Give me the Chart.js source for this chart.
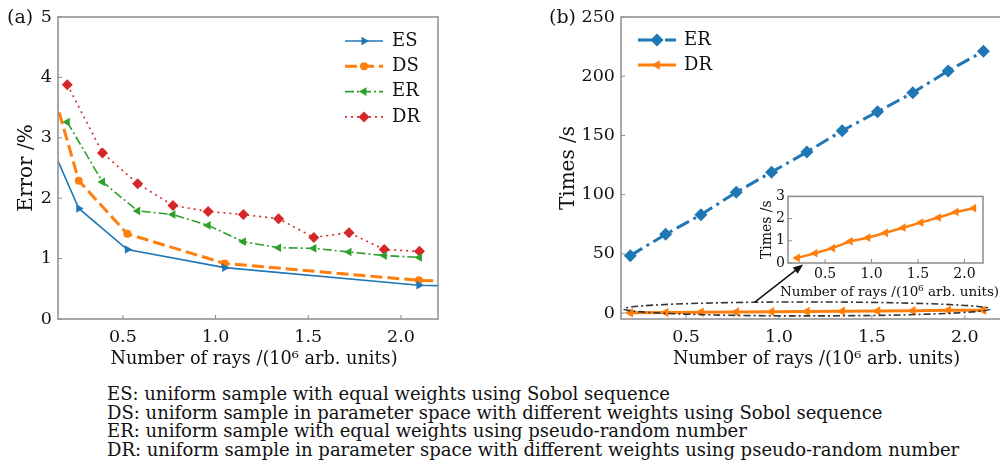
<!DOCTYPE html>
<html>
<head>
<meta charset="utf-8">
<script src="https://cdn.jsdelivr.net/npm/chart.js@4.4.1/dist/chart.umd.min.js"></script>
<style>
  html, body { margin: 0; padding: 0; background: #fff; }
  body { width: 1000px; height: 473px; overflow: hidden; position: relative; font-family: 'DejaVu Serif', serif; color: #111; }
  canvas { position: absolute; }
  #chartA { left: 0; top: 0; }
  #chartB { left: 540px; top: 0; }
  #inset { left: 750px; top: 185px; }
  .tag { position: absolute; font-size: 19px; line-height: 22px; }
  #caption { position: absolute; left: 107px; top: 385px; font-size: 18px; line-height: 18.7px; white-space: nowrap; }
</style>
</head>
<body>
<canvas id="chartA" width="450" height="372"></canvas>
<canvas id="chartB" width="470" height="372"></canvas>
<canvas id="inset" width="250" height="117"></canvas>
<div class="tag" style="left:7px;top:5px">(a)</div>
<div class="tag" style="left:549px;top:5px">(b)</div>
<div id="caption">
  <div>ES: uniform sample with equal weights using Sobol sequence</div>
  <div>DS: uniform sample in parameter space with different weights using Sobol sequence</div>
  <div>ER: uniform sample with equal weights using pseudo-random number</div>
  <div>DR: uniform sample in parameter space with different weights using pseudo-random number</div>
</div>
<script>
// number of rays, 10^6 arb. units
const sobolRays = [0.131, 0.262, 0.524, 1.049, 2.097, 4.194]
const randomRays = [0.2, 0.39, 0.58, 0.77, 0.96, 1.15, 1.34, 1.53, 1.72, 1.91, 2.1]

// error, %
const esError = [2.75, 1.83, 1.15, 0.85, 0.56, 0.40]
const dsError = [3.69, 2.29, 1.41, 0.92, 0.64, 0.45]
const erError = [3.26, 2.27, 1.79, 1.73, 1.55, 1.28, 1.18, 1.17, 1.11, 1.05, 1.02]
const drError = [3.88, 2.75, 2.24, 1.88, 1.78, 1.73, 1.66, 1.35, 1.43, 1.15, 1.12]

// times, s
const erTime = [48.5, 66.5, 83, 102, 119, 136, 154, 170, 186, 204.5, 221]
const drTime = [0.23, 0.44, 0.67, 0.98, 1.14, 1.36, 1.59, 1.82, 2.05, 2.30, 2.47]

const rayTicks = [0.5, 1.0, 1.5, 2.0]
const errorTicks = [0, 1, 2, 3, 4, 5]
const timeTicks = [0, 50, 100, 150, 200, 250]
const insetTimeTicks = [0, 1, 2, 3]

const xTitle = 'Number of rays /(10\u2076 arb. units)'

const blue = '#1f77b4'
const orange = '#ff7f0e'
const green = '#2ca02c'
const red = '#d62728'
const serif = "'DejaVu Serif', serif"

const points = (xs, ys) => xs.map((x, i) => ({ x: x, y: ys[i] }))
const fixTicks = (list) => (scale) => { scale.ticks = list.map(v => ({ value: v })) }

// grey box round the plot area with small inward ticks
const framePlugin = {
    id: 'frame',
    afterDatasetsDraw(chart) {
        const { ctx, chartArea: a, scales } = chart
        ctx.save()
        ctx.strokeStyle = '#8c8c8c'
        ctx.lineWidth = 1.5
        ctx.strokeRect(a.left, a.top, a.right - a.left, a.bottom - a.top)
        ctx.lineWidth = 1
        scales.x.ticks.forEach(t => {
            const px = scales.x.getPixelForValue(t.value)
            ctx.beginPath()
            ctx.moveTo(px, a.bottom)
            ctx.lineTo(px, a.bottom - 4)
            ctx.stroke()
        })
        scales.y.ticks.forEach(t => {
            const py = scales.y.getPixelForValue(t.value)
            ctx.beginPath()
            ctx.moveTo(a.left, py)
            ctx.lineTo(a.left + 4, py)
            ctx.stroke()
        })
        ctx.restore()
    },
}

// x axis title, free to run wider than the plot area
const xTitlePlugin = {
    id: 'xTitle',
    afterDraw(chart, args, opts) {
        if (!opts || !opts.show) return
        const { ctx, chartArea: a } = chart
        ctx.save()
        ctx.fillStyle = '#111'
        ctx.font = opts.size + 'px ' + serif
        ctx.textAlign = 'center'
        ctx.textBaseline = 'middle'
        ctx.fillText(xTitle, (a.left + a.right) / 2 + opts.dx, opts.y)
        ctx.restore()
    },
}

// legend with line sample + marker, like matplotlib
const lineLegend = {
    id: 'lineLegend',
    afterDraw(chart, args, opts) {
        if (!opts || !opts.show) return
        const { ctx, chartArea: a } = chart
        const x0 = opts.anchor === 'right' ? a.right - opts.dx : a.left + opts.dx
        chart.data.datasets.forEach((ds, i) => {
            const y = a.top + opts.dy + i * opts.step
            ctx.save()
            ctx.strokeStyle = ds.borderColor
            ctx.lineWidth = ds.borderWidth
            ctx.setLineDash(ds.borderDash || [])
            ctx.beginPath()
            ctx.moveTo(x0, y)
            ctx.lineTo(x0 + opts.len, y)
            ctx.stroke()
            ctx.setLineDash([])
            ctx.fillStyle = ds.borderColor
            Chart.helpers.drawPoint(ctx, {
                pointStyle: ds.pointStyle,
                rotation: ds.pointRotation || 0,
                radius: ds.pointRadius,
                borderWidth: 0,
            }, x0 + opts.len / 2, y)
            ctx.fillStyle = '#111'
            ctx.font = opts.font
            ctx.textBaseline = 'middle'
            ctx.fillText(ds.label, x0 + opts.len + opts.gap, y)
            ctx.restore()
        })
    },
}

// dash-dot ellipse round the DR line and the arrow to the inset
const zoomMark = {
    id: 'zoomMark',
    afterDatasetsDraw(chart, args, opts) {
        if (!opts || !opts.show) return
        const { ctx, scales: { x, y } } = chart
        const cx = x.getPixelForValue(opts.center[0])
        const cy = y.getPixelForValue(opts.center[1])
        const rx = x.getPixelForValue(opts.center[0] + opts.radius[0]) - cx
        const ry = cy - y.getPixelForValue(opts.center[1] + opts.radius[1])
        ctx.save()
        ctx.strokeStyle = '#333'
        ctx.lineWidth = 1.6
        ctx.setLineDash([7, 3, 2, 3])
        ctx.beginPath()
        ctx.ellipse(cx, cy, rx, ry, 0, 0, Math.PI * 2)
        ctx.stroke()
        ctx.setLineDash([])
        const x1 = x.getPixelForValue(opts.from[0]), y1 = y.getPixelForValue(opts.from[1])
        const x2 = x.getPixelForValue(opts.to[0]), y2 = y.getPixelForValue(opts.to[1])
        const ang = Math.atan2(y2 - y1, x2 - x1)
        ctx.strokeStyle = '#111'
        ctx.fillStyle = '#111'
        ctx.lineWidth = 1.5
        ctx.beginPath()
        ctx.moveTo(x1, y1)
        ctx.lineTo(x2 - 6 * Math.cos(ang), y2 - 6 * Math.sin(ang))
        ctx.stroke()
        ctx.beginPath()
        ctx.moveTo(x2, y2)
        ctx.lineTo(x2 - 10 * Math.cos(ang) + 4 * Math.sin(ang), y2 - 10 * Math.sin(ang) - 4 * Math.cos(ang))
        ctx.lineTo(x2 - 10 * Math.cos(ang) - 4 * Math.sin(ang), y2 - 10 * Math.sin(ang) + 4 * Math.cos(ang))
        ctx.closePath()
        ctx.fill()
        ctx.restore()
    },
}

const axes = ({ xMin, xMax, yMin, yMax, yTicks, yTitle, yWidth, xHeight, tickSize, yTitleSize, yPad, xPad, yTitlePad }) => ({
    x: {
        type: 'linear',
        min: xMin,
        max: xMax,
        afterBuildTicks: fixTicks(rayTicks),
        afterFit: (s) => { s.height = xHeight },
        grid: { display: false, drawTicks: false },
        border: { display: false },
        ticks: {
            autoSkip: false,
            maxRotation: 0,
            padding: xPad,
            color: '#111',
            font: { family: serif, size: tickSize },
            callback: (v) => v.toFixed(1),
        },
    },
    y: {
        type: 'linear',
        min: yMin,
        max: yMax,
        afterBuildTicks: fixTicks(yTicks),
        afterFit: (s) => { s.width = yWidth },
        grid: { display: false, drawTicks: false },
        border: { display: false },
        ticks: {
            autoSkip: false,
            padding: yPad,
            color: '#111',
            font: { family: serif, size: tickSize },
        },
        title: {
            display: true,
            text: yTitle,
            color: '#111',
            font: { family: serif, size: yTitleSize },
            padding: { top: yTitlePad, bottom: 0 },
        },
    },
})

const baseOptions = {
    responsive: false,
    animation: false,
    events: [],
}

// (a) error
new Chart(document.getElementById('chartA'), {
    type: 'line',
    plugins: [framePlugin, lineLegend, xTitlePlugin],
    data: {
        datasets: [
            {
                label: 'ES', data: points(sobolRays, esError),
                borderColor: blue, backgroundColor: blue, borderWidth: 1.6,
                pointStyle: 'triangle', pointRotation: 90, pointRadius: 5, pointBorderWidth: 0,
                clip: 0,
            },
            {
                label: 'DS', data: points(sobolRays, dsError),
                borderColor: orange, backgroundColor: orange, borderWidth: 3, borderDash: [12, 5],
                pointStyle: 'circle', pointRadius: 4, pointBorderWidth: 0,
                clip: 0,
            },
            {
                label: 'ER', data: points(randomRays, erError),
                borderColor: green, backgroundColor: green, borderWidth: 1.6, borderDash: [9, 3, 2, 3],
                pointStyle: 'triangle', pointRotation: -90, pointRadius: 5, pointBorderWidth: 0,
                clip: 0,
            },
            {
                label: 'DR', data: points(randomRays, drError),
                borderColor: red, backgroundColor: red, borderWidth: 1.6, borderDash: [2, 4],
                pointStyle: 'rectRot', pointRadius: 5.5, pointBorderWidth: 0,
                clip: 0,
            },
        ],
    },
    options: {
        ...baseOptions,
        layout: { padding: { left: 0, top: 17, right: 12, bottom: 0 } },
        scales: axes({
            xMin: 0.15, xMax: 2.2, yMin: 0, yMax: 5, yTicks: errorTicks, yTitle: 'Error /%',
            yWidth: 58, xHeight: 53, tickSize: 17.5, yTitleSize: 20,
            yPad: 6, xPad: 8, yTitlePad: 15,
        }),
        plugins: {
            legend: { display: false },
            tooltip: { enabled: false },
            lineLegend: { show: true, anchor: 'right', dx: 93, dy: 24, step: 25.3, len: 38, gap: 9, font: '18px ' + serif },
            xTitle: { show: true, size: 17.7, dx: 6, y: 359 },
        },
    },
})

// (b) time
new Chart(document.getElementById('chartB'), {
    type: 'line',
    plugins: [framePlugin, lineLegend, zoomMark, xTitlePlugin],
    data: {
        datasets: [
            {
                label: 'ER', data: points(randomRays, erTime),
                borderColor: blue, backgroundColor: blue, borderWidth: 3, borderDash: [14, 5, 3, 5],
                pointStyle: 'rectRot', pointRadius: 6.5, pointBorderWidth: 0,
                clip: 0,
            },
            {
                label: 'DR', data: points(randomRays, drTime),
                borderColor: orange, backgroundColor: orange, borderWidth: 3,
                pointStyle: 'triangle', pointRotation: -90, pointRadius: 5.5, pointBorderWidth: 0,
                clip: 0,
            },
        ],
    },
    options: {
        ...baseOptions,
        layout: { padding: { left: 0, top: 17, right: 8, bottom: 0 } },
        scales: axes({
            xMin: 0.15, xMax: 2.2, yMin: -5, yMax: 250, yTicks: timeTicks, yTitle: 'Times /s',
            yWidth: 81, xHeight: 53, tickSize: 17.5, yTitleSize: 20,
            yPad: 6, xPad: 8, yTitlePad: 17,
        }),
        plugins: {
            legend: { display: false },
            tooltip: { enabled: false },
            lineLegend: { show: true, anchor: 'left', dx: 17, dy: 23, step: 25, len: 38, gap: 8, font: '18px ' + serif },
            zoomMark: { show: true, center: [1.15, 3.5], radius: [0.985, 5.9], from: [0.87, 9.3], to: [1.13, 41] },
            xTitle: { show: true, size: 17.7, dx: 5, y: 359 },
        },
    },
})

// inset: DR time only
new Chart(document.getElementById('inset'), {
    type: 'line',
    plugins: [{
        id: 'whiteArea',
        beforeDraw(chart) {
            const { ctx, chartArea: a } = chart
            ctx.save()
            ctx.fillStyle = '#fff'
            ctx.fillRect(a.left, a.top, a.right - a.left, a.bottom - a.top)
            ctx.restore()
        },
    }, framePlugin, xTitlePlugin],
    data: {
        datasets: [
            {
                label: 'DR', data: points(randomRays, drTime),
                borderColor: orange, backgroundColor: orange, borderWidth: 2.5,
                pointStyle: 'triangle', pointRotation: -90, pointRadius: 5, pointBorderWidth: 0,
                clip: 0,
            },
        ],
    },
    options: {
        ...baseOptions,
        layout: { padding: { left: 0, top: 10, right: 17, bottom: 0 } },
        scales: axes({
            xMin: 0.1, xMax: 2.2, yMin: 0, yMax: 3, yTicks: insetTimeTicks, yTitle: 'Times /s',
            yWidth: 38, xHeight: 39, tickSize: 14, yTitleSize: 14,
            yPad: 3, xPad: 3, yTitlePad: 9,
        }),
        plugins: {
            legend: { display: false },
            tooltip: { enabled: false },
            xTitle: { show: true, size: 13.5, dx: 4, y: 107 },
        },
    },
})
</script>
</body>
</html>
